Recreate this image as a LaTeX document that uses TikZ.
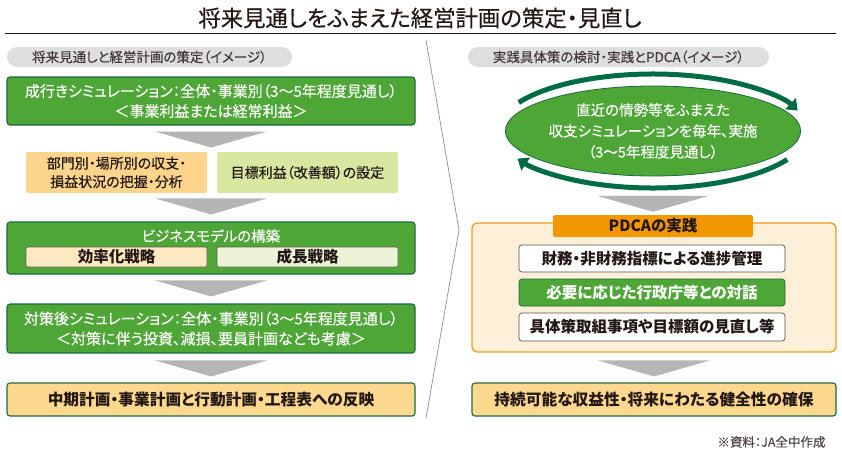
\documentclass[tikz,border=0pt]{standalone}
\usepackage{fontspec}
\setmainfont[RawFeature=+palt]{Noto Sans CJK JP}
\newfontfamily\medfont[RawFeature=+palt,FakeBold=0.35]{Noto Sans CJK JP}
\usepackage{tikz}
\usetikzlibrary{shapes.geometric,arrows.meta,calc}

\definecolor{boxGreen}{HTML}{4DA635}
\definecolor{lineGreen}{HTML}{1B6B3E}
\definecolor{cycleGreen}{HTML}{006C46}
\definecolor{pillGray}{HTML}{DEDEDE}
\definecolor{arrowGray}{HTML}{B5B5B5}
\definecolor{inkDark}{HTML}{231815}
\definecolor{paleOrange}{HTML}{FCD48C}
\definecolor{paleGreen}{HTML}{D9E8A1}
\definecolor{lightOrange}{HTML}{FDE8BF}
\definecolor{lightGreen}{HTML}{EDF3D6}
\definecolor{goalYellow}{HTML}{FCD98E}
\definecolor{pdcaFill}{HTML}{FEEFD9}
\definecolor{pdcaLine}{HTML}{F39C1A}
\definecolor{pdcaOrange}{HTML}{F39800}

\newcommand{\fsz}[2]{\fontsize{#1pt}{#2pt}\selectfont}
\newcommand{\flowdown}[1]{\fill[arrowGray] ($(#1)+(-56,16)$) -- ($(#1)+(56,16)$) -- (#1) -- cycle;}

\begin{document}
\begin{tikzpicture}[x=1pt,y=1pt,
  greenbox/.style={draw=lineGreen,fill=boxGreen,line width=1.1pt,rounded corners=3pt,
    text=white,align=center,inner sep=0pt,font=\medfont\fsz{15}{20}},
  goalbox/.style={draw=lineGreen,fill=goalYellow,line width=1.1pt,rounded corners=3pt,
    text=inkDark,inner sep=0pt,font=\bfseries\fsz{15.7}{18}},
  softbox/.style={rounded corners=2pt,text=inkDark,align=center,inner sep=0pt,
    minimum width=181,font=\medfont\fsz{14}{18.5}},
  stratbox/.style={draw=inkDark!70,line width=0.6pt,rounded corners=2pt,text=inkDark,
    inner sep=0pt,minimum width=181,minimum height=20,font=\bfseries\fsz{15.5}{18}},
  pdcaitem/.style={draw=inkDark!75,line width=0.7pt,rounded corners=3pt,fill=white,
    text=inkDark,inner sep=0pt,minimum width=266,minimum height=27,font=\bfseries\fsz{15.5}{18}},
  pill/.style={fill=pillGray,rounded corners=10pt,text=inkDark!85,inner sep=0pt,
    minimum height=20,font=\medfont\fsz{13.5}{15}},
  cyclearrow/.style={cycleGreen,line width=5pt,-{Triangle[width=15pt,length=10pt]}}]
  \useasboundingbox (0,0) rectangle (842,-452);

  % title
  \node[font=\medfont\fsz{22.4}{24},text=inkDark] (title) at (420,-18) {将来見通しをふまえた経営計画の策定・見直し};
  \draw[inkDark,line width=1pt] (5,-34) -- (836,-34);
  \draw[gray!90,line width=0.7pt] (426,-40) -- (459,-230) -- (426,-418);

  % left column
  \node[pill,minimum width=285] (hdrL) at (149.5,-57) {将来見通しと経営計画の策定（イメージ）};
  \node[greenbox,minimum width=408,minimum height=48] (forecast) at (211,-101)
    {成行きシミュレーション：全体・事業別（3～5年程度見通し）\\＜事業利益または経常利益＞};
  \node[softbox,fill=paleOrange,minimum height=41] (analysis) at (116.5,-172.5)
    {部門別・場所別の収支・\\損益状況の把握・分析};
  \node[softbox,fill=paleGreen,minimum height=41] (target) at (307.5,-172.5)
    {目標利益（改善額）の設定};
  \node[greenbox,minimum width=408,minimum height=52] (bizmodel) at (211,-248) {};
  \node[text=white,font=\medfont\fsz{14.5}{18}] (bizlabel) at (211,-236) {ビジネスモデルの構築};
  \node[stratbox,fill=lightOrange] (efficiency) at (116.5,-257) {効率化戦略};
  \node[stratbox,fill=lightGreen] (growth) at (307.5,-257) {成長戦略};
  \node[greenbox,minimum width=408,minimum height=49] (after) at (211,-328.5)
    {対策後シミュレーション：全体・事業別（3～5年程度見通し）\\＜対策に伴う投資、減損、要員計画なども考慮＞};
  \node[goalbox,minimum width=408,minimum height=33] (plan) at (211,-399.5)
    {中期計画・事業計画と行動計画・工程表への反映};

  \coordinate (tipA) at ($(forecast.south)+(0,-22)$);
  \coordinate (tipB) at ($(bizmodel.north)+(0,7)$);
  \coordinate (tipC) at ($(after.north)+(0,7)$);
  \coordinate (tipD) at ($(plan.north)+(0,6)$);
  \flowdown{tipA}
  \flowdown{tipB}
  \flowdown{tipC}
  \flowdown{tipD}

  % right column
  \node[pill,minimum width=301] (hdrR) at (618.5,-57) {実践具体策の検討・実践とPDCA（イメージ）};
  \node[ellipse,draw=lineGreen,fill=boxGreen,line width=0.8pt,text=white,align=center,
    inner sep=0pt,minimum width=280,minimum height=90,font=\medfont\fsz{14.5}{21}] (sim) at (653,-131)
    {直近の情勢等をふまえた\\収支シミュレーションを毎年、実施\\（3～5年程度見通し）};
  \draw[cyclearrow] ($(sim.center)+(150:155 and 57)$) arc[start angle=150,end angle=21,x radius=155,y radius=57];
  \draw[cyclearrow] ($(sim.center)+(-30:155 and 57)$) arc[start angle=-30,end angle=-151,x radius=155,y radius=57];

  \node[draw=pdcaLine,fill=pdcaFill,line width=1.3pt,rounded corners=5pt,minimum width=364,
    minimum height=129,inner sep=0pt] (pdcabox) at (654,-287.5) {};
  \node[fill=pdcaOrange,rounded corners=2pt,minimum width=200,minimum height=22,inner sep=0pt,
    text=inkDark,font=\bfseries\fsz{15.5}{18}] (pdcalabel) at (653,-226) {PDCAの実践};
  \node[pdcaitem] (monitor) at (652,-258.5) {財務・非財務指標による進捗管理};
  \node[pdcaitem,draw=lineGreen,fill=boxGreen,text=white] (dialogue) at (652,-292.5) {必要に応じた行政庁等との対話};
  \node[pdcaitem,minimum height=28] (review) at (652,-327) {具体策取組事項や目標額の見直し等};
  \node[goalbox,minimum width=364,minimum height=33] (secure) at (654,-399.5)
    {持続可能な収益性・将来にわたる健全性の確保};

  \coordinate (tipE) at ($(pdcalabel.north)+(0,3)$);
  \coordinate (tipF) at ($(secure.north)+(0,6)$);
  \flowdown{tipE}
  \flowdown{tipF}

  \node[anchor=east,text=inkDark!80,font=\medfont\fsz{12.5}{14}] (source) at (829,-442) {※資料：JA全中作成};
\end{tikzpicture}
\end{document}
